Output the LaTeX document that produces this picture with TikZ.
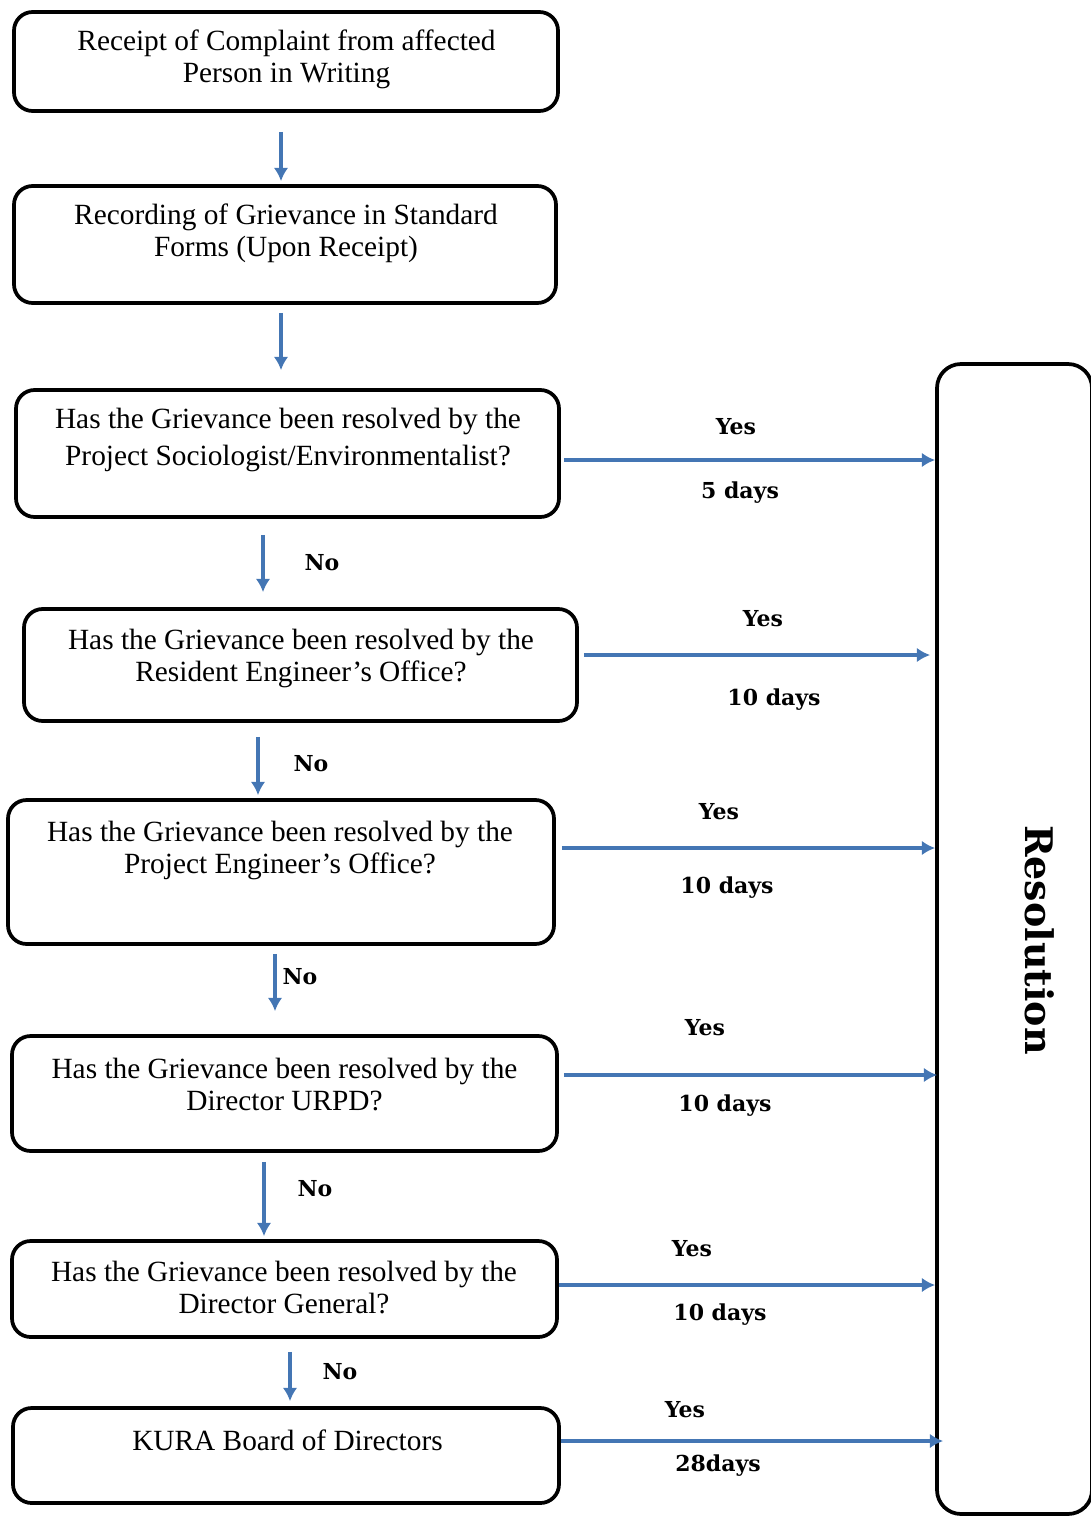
\documentclass[tikz,border=0pt]{standalone}
\usepackage{fontspec}
\setmainfont{Liberation Serif}
\newfontfamily\labelfont{DejaVu Serif}
\usetikzlibrary{arrows.meta,calc}
\definecolor{flowblue}{RGB}{68,118,180}
\begin{document}
\begin{tikzpicture}[x=0.75pt,y=-0.75pt,
  box/.style={draw=black,line width=2.8pt,rounded corners=14pt,inner sep=0pt},
  boxtext/.style={align=center,font=\fontsize{22}{24}\selectfont,inner sep=0pt},
  arr/.style={draw=flowblue,line width=2.8pt,-{Latex[length=10pt,width=11pt]}},
  lbl/.style={font=\labelfont\bfseries\fontsize{16.5}{19}\selectfont,inner sep=0pt}]
\useasboundingbox (0,0) rectangle (1091,1516);
\clip (0,0) rectangle (1091,1516);

% process boxes
\node[box,minimum width=408pt,minimum height=74.25pt] (b1) at (286,61.5) {};
\node[box,minimum width=406.5pt,minimum height=87.75pt] (b2) at (285,244.5) {};
\node[box,minimum width=407.25pt,minimum height=95.25pt] (b3) at (287.5,453.5) {};
\node[box,minimum width=414.75pt,minimum height=84pt] (b4) at (300.5,665) {};
\node[box,minimum width=409.5pt,minimum height=108pt] (b5) at (281,872) {};
\node[box,minimum width=408.75pt,minimum height=86.25pt] (b6) at (284.5,1093.5) {};
\node[box,minimum width=408.75pt,minimum height=72pt] (b7) at (284.5,1289) {};
\node[box,minimum width=409.5pt,minimum height=71.25pt] (b8) at (286,1455.5) {};
\node[box,rounded corners=18pt,minimum width=116.25pt,minimum height=862.5pt] (res) at (1014.5,939) {};

% box texts
\node[boxtext] (t1) at (286.5,59) {Receipt of Complaint from affected\\Person in Writing};
\node[boxtext] (t2) at (286,233) {Recording of Grievance in Standard\\Forms (Upon Receipt)};
\node[boxtext,font=\fontsize{22}{27.75}\selectfont] (t3) at (288,440) {Has the Grievance been resolved by the\\Project Sociologist/Environmentalist?};
\node[boxtext] (t4) at (301,658) {Has the Grievance been resolved by the\\Resident Engineer's Office?};
\node[boxtext] (t5) at (280,850) {Has the Grievance been resolved by the\\Project Engineer's Office?};
\node[boxtext] (t6) at (284.5,1085) {Has the Grievance been resolved by the\\Director URPD?};
\node[boxtext] (t7) at (284,1288) {Has the Grievance been resolved by the\\Director General?};
\node[boxtext] (t8) at (287.5,1440) {KURA Board of Directors};
\node[font=\labelfont\bfseries\fontsize{28.5}{30}\selectfont,rotate=-90,inner sep=0pt] (tr) at (1040,940) {Resolution};

% downward flow
\draw[arr] ($(b1.south)+(-5,19)$) -- ($(b2.north)+(-4,-3)$);
\draw[arr] ($(b2.south)+(-4,8)$) -- ($(b3.north)+(-6.5,-18)$);
\draw[arr] ($(b3.south)+(-24.5,16)$) -- ($(b4.north)+(-37.5,-15)$);
\draw[arr] ($(b4.south)+(-42.5,14)$) -- ($(b5.north)+(-23,-3)$);
\draw[arr] ($(b5.south)+(-6,8)$) -- ($(b6.north)+(-9.5,-23)$);
\draw[arr] ($(b6.south)+(-20.5,9)$) -- ($(b7.north)+(-20.5,-3)$);
\draw[arr] ($(b7.south)+(5.5,13)$) -- ($(b8.north)+(4,-5)$);

% "Yes" branches to the resolution column
\draw[arr] ($(b3.east)+(3,6.5)$) -- ($(b3.east -| res.west)+(0,6.5)$);
\draw[arr] ($(b4.east)+(5,-10)$) -- ($(b4.east -| res.west)+(-5,-10)$);
\draw[arr] ($(b5.east)+(6,-24)$) -- ($(b5.east -| res.west)+(0,-24)$);
\draw[arr] ($(b6.east)+(5,-18.5)$) -- ($(b6.east -| res.west)+(2,-18.5)$);
\draw[arr] ($(b7.east)+(0,-4)$) -- ($(b7.east -| res.west)+(0,-4)$);
\draw[arr] ($(b8.east)+(0,-14.5)$) -- ($(b8.east -| res.west)+(8,-14.5)$);

% branch labels
\node[lbl] (n3) at (322,563) {No};
\node[lbl] (n4) at (311,764) {No};
\node[lbl] (n5) at (300,977) {No};
\node[lbl] (n6) at (315,1189) {No};
\node[lbl] (n7) at (340,1372) {No};
\node[lbl] (y3) at (736,427) {Yes};
\node[lbl] (y4) at (763,619) {Yes};
\node[lbl] (y5) at (719,812) {Yes};
\node[lbl] (y6) at (705,1028) {Yes};
\node[lbl] (y7) at (692,1249) {Yes};
\node[lbl] (y8) at (685,1410) {Yes};
\node[lbl] (d3) at (740,493) {5 days};
\node[lbl] (d4) at (774,700) {10 days};
\node[lbl] (d5) at (727,888) {10 days};
\node[lbl] (d6) at (725,1106) {10 days};
\node[lbl] (d7) at (720,1315) {10 days};
\node[lbl] (d8) at (718,1466) {28days};
\end{tikzpicture}
\end{document}
